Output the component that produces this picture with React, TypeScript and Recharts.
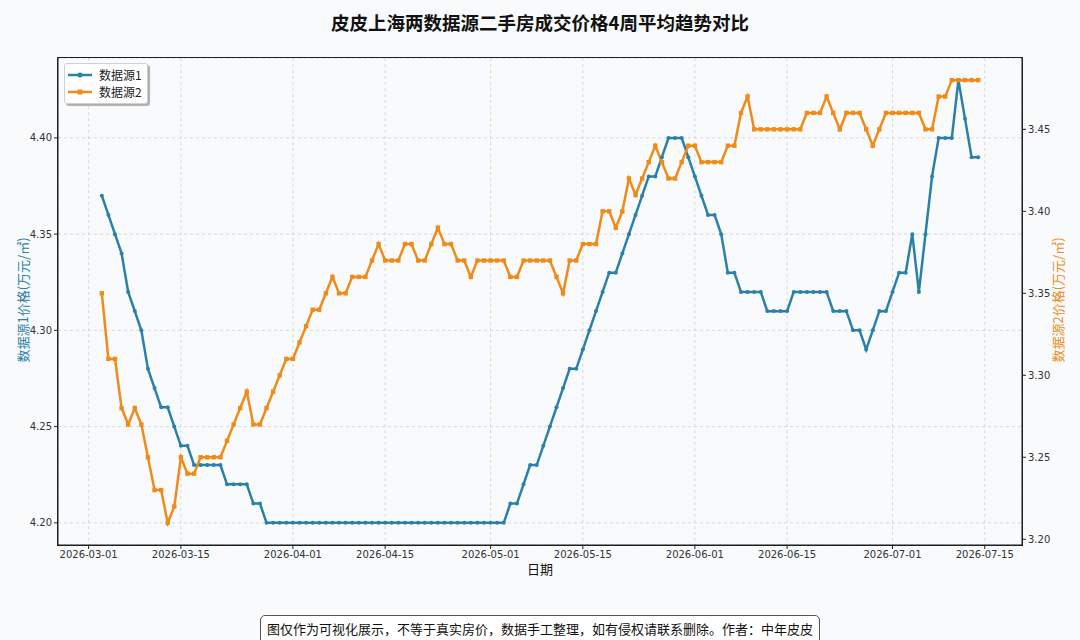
import React from "react";
import { LineChart, Line, XAxis, YAxis, CartesianGrid } from "recharts";

// 4周平均价格，逐日，2026-03-03 起
const startDate = "2026-03-03";

const source1 = [
  4.37, 4.36, 4.35, 4.34, 4.32, 4.31, 4.3, 4.28, 4.27, 4.26,
  4.26, 4.25, 4.24, 4.24, 4.23, 4.23, 4.23, 4.23, 4.23, 4.22,
  4.22, 4.22, 4.22, 4.21, 4.21, 4.2, 4.2, 4.2, 4.2, 4.2,
  4.2, 4.2, 4.2, 4.2, 4.2, 4.2, 4.2, 4.2, 4.2, 4.2,
  4.2, 4.2, 4.2, 4.2, 4.2, 4.2, 4.2, 4.2, 4.2, 4.2,
  4.2, 4.2, 4.2, 4.2, 4.2, 4.2, 4.2, 4.2, 4.2, 4.2,
  4.2, 4.2, 4.21, 4.21, 4.22, 4.23, 4.23, 4.24, 4.25, 4.26,
  4.27, 4.28, 4.28, 4.29, 4.3, 4.31, 4.32, 4.33, 4.33, 4.34,
  4.35, 4.36, 4.37, 4.38, 4.38, 4.39, 4.4, 4.4, 4.4, 4.39,
  4.38, 4.37, 4.36, 4.36, 4.35, 4.33, 4.33, 4.32, 4.32, 4.32,
  4.32, 4.31, 4.31, 4.31, 4.31, 4.32, 4.32, 4.32, 4.32, 4.32,
  4.32, 4.31, 4.31, 4.31, 4.3, 4.3, 4.29, 4.3, 4.31, 4.31,
  4.32, 4.33, 4.33, 4.35, 4.32, 4.35, 4.38, 4.4, 4.4, 4.4,
  4.43, 4.41, 4.39, 4.39,
];

const source2 = [
  3.35, 3.31, 3.31, 3.28, 3.27, 3.28, 3.27, 3.25, 3.23, 3.23,
  3.21, 3.22, 3.25, 3.24, 3.24, 3.25, 3.25, 3.25, 3.25, 3.26,
  3.27, 3.28, 3.29, 3.27, 3.27, 3.28, 3.29, 3.3, 3.31, 3.31,
  3.32, 3.33, 3.34, 3.34, 3.35, 3.36, 3.35, 3.35, 3.36, 3.36,
  3.36, 3.37, 3.38, 3.37, 3.37, 3.37, 3.38, 3.38, 3.37, 3.37,
  3.38, 3.39, 3.38, 3.38, 3.37, 3.37, 3.36, 3.37, 3.37, 3.37,
  3.37, 3.37, 3.36, 3.36, 3.37, 3.37, 3.37, 3.37, 3.37, 3.36,
  3.35, 3.37, 3.37, 3.38, 3.38, 3.38, 3.4, 3.4, 3.39, 3.4,
  3.42, 3.41, 3.42, 3.43, 3.44, 3.43, 3.42, 3.42, 3.43, 3.44,
  3.44, 3.43, 3.43, 3.43, 3.43, 3.44, 3.44, 3.46, 3.47, 3.45,
  3.45, 3.45, 3.45, 3.45, 3.45, 3.45, 3.45, 3.46, 3.46, 3.46,
  3.47, 3.46, 3.45, 3.46, 3.46, 3.46, 3.45, 3.44, 3.45, 3.46,
  3.46, 3.46, 3.46, 3.46, 3.46, 3.45, 3.45, 3.47, 3.47, 3.48,
  3.48, 3.48, 3.48, 3.48,
];

const dateTicks = [
  "2026-03-01", "2026-03-15", "2026-04-01", "2026-04-15", "2026-05-01",
  "2026-05-15", "2026-06-01", "2026-06-15", "2026-07-01", "2026-07-15",
];

const leftTicks = [4.2, 4.25, 4.3, 4.35, 4.4];
const rightTicks = [3.2, 3.25, 3.3, 3.35, 3.4, 3.45];

const BLUE = "#2B80AA";
const ORANGE = "#EF8B1A";
const BG = "#f8fafc";
const DAY = 86400000;

const toTime = (s: string) => Date.parse(s + "T00:00:00Z");
const t0 = toTime(startDate);

const data = source1.map((v, i) => ({
  t: t0 + i * DAY,
  s1: v,
  s2: source2[i],
}));

const tickTimes = dateTicks.map(toTime);
const fmtDate = (t: number) => new Date(t).toISOString().slice(0, 10);

// matplotlib 默认 5% 边距
const span = data[data.length - 1].t - data[0].t;
const xDomain = [data[0].t - span * 0.05, data[data.length - 1].t + span * 0.05];

const W = 1080;
const H = 640;
const PLOT = { left: 58, top: 58, right: 1022, bottom: 545 };
const X_AXIS_H = 24;

const cjk = '"Noto Sans CJK SC", "Noto Sans", sans-serif';
const tickStyle = { fontSize: 10, fill: "#333", fontFamily: '"DejaVu Sans", sans-serif' };

function SquareDot(props: any) {
  const { cx, cy, index } = props;
  if (cx == null || cy == null) return null;
  return <rect key={"sq" + index} x={cx - 2.2} y={cy - 2.2} width={4.4} height={4.4} fill={ORANGE} />;
}

function LegendBox() {
  const item = (color: string, label: string, square: boolean) => (
    <div style={{ display: "flex", alignItems: "center", height: 17 }}>
      <svg width={24} height={10} style={{ marginRight: 7 }}>
        <line x1={0} y1={5} x2={24} y2={5} stroke={color} strokeWidth={2.5} />
        {square ? (
          <rect x={9.5} y={2.5} width={5} height={5} fill={color} />
        ) : (
          <circle cx={12} cy={5} r={2.5} fill={color} />
        )}
      </svg>
      <span style={{ fontSize: 12, color: "#222", fontFamily: cjk }}>{label}</span>
    </div>
  );
  return (
    <div
      style={{
        position: "absolute",
        left: 64,
        top: 63,
        background: "#fff",
        border: "1px solid #d0d0d0",
        borderRadius: 3,
        boxShadow: "2px 2px 1px rgba(0,0,0,0.3)",
        padding: "2px 5px 3px 3px",
      }}
    >
      {item(BLUE, "数据源1", false)}
      {item(ORANGE, "数据源2", true)}
    </div>
  );
}

export default function App() {
  return (
    <div style={{ position: "absolute", left: 0, top: 0, width: W, height: H, background: BG, overflow: "hidden" }}>
      <div
        style={{
          position: "absolute",
          top: 9,
          width: W,
          textAlign: "center",
          fontFamily: cjk,
          fontWeight: 700,
          fontSize: 18.5,
          color: "#111",
        }}
      >
        皮皮上海两数据源二手房成交价格4周平均趋势对比
      </div>

      <LineChart
        width={W}
        height={H}
        data={data}
        margin={{ top: PLOT.top, right: 0, left: 0, bottom: H - PLOT.bottom - X_AXIS_H }}
      >
        <CartesianGrid yAxisId="left" strokeDasharray="3 3" stroke="#cfcfcf" strokeWidth={0.8} />
        <XAxis
          dataKey="t"
          type="number"
          domain={xDomain}
          allowDataOverflow
          ticks={tickTimes}
          tickFormatter={fmtDate}
          tick={tickStyle}
          tickSize={4}
          height={X_AXIS_H}
          stroke="#222"
        />
        <YAxis
          yAxisId="left"
          domain={[4.1885, 4.4415]}
          allowDataOverflow
          ticks={leftTicks}
          tickFormatter={(v: number) => v.toFixed(2)}
          tick={tickStyle}
          tickSize={4}
          width={PLOT.left}
          stroke="#222"
        />
        <YAxis
          yAxisId="right"
          orientation="right"
          domain={[3.1965, 3.4935]}
          allowDataOverflow
          ticks={rightTicks}
          tickFormatter={(v: number) => v.toFixed(2)}
          tick={tickStyle}
          tickSize={4}
          width={W - PLOT.right}
          stroke="#222"
        />
        <Line
          yAxisId="left"
          dataKey="s1"
          name="数据源1"
          stroke={BLUE}
          strokeWidth={2.5}
          dot={{ r: 2, fill: BLUE, stroke: BLUE, strokeWidth: 0 }}
          activeDot={false}
          isAnimationActive={false}
        />
        <Line
          yAxisId="right"
          dataKey="s2"
          name="数据源2"
          stroke={ORANGE}
          strokeWidth={2.5}
          dot={<SquareDot />}
          activeDot={false}
          isAnimationActive={false}
        />
      </LineChart>

      <LegendBox />

      {/* frame */}
      <div
        style={{
          position: "absolute",
          left: PLOT.left - 1,
          top: PLOT.top - 1,
          width: PLOT.right - PLOT.left,
          height: PLOT.bottom - PLOT.top,
          border: "1.5px solid #1b1f1f",
          pointerEvents: "none",
        }}
      />

      <div
        style={{
          position: "absolute",
          left: 22,
          top: 300,
          transform: "translate(-50%, -50%) rotate(-90deg)",
          whiteSpace: "nowrap",
          fontFamily: cjk,
          fontSize: 13,
          color: BLUE,
        }}
      >
        数据源1价格(万元/㎡)
      </div>
      <div
        style={{
          position: "absolute",
          left: 1057,
          top: 300,
          transform: "translate(-50%, -50%) rotate(-90deg)",
          whiteSpace: "nowrap",
          fontFamily: cjk,
          fontSize: 13,
          color: ORANGE,
        }}
      >
        数据源2价格(万元/㎡)
      </div>
      <div
        style={{
          position: "absolute",
          top: 559,
          width: W,
          textAlign: "center",
          fontFamily: cjk,
          fontSize: 13,
          color: "#111",
        }}
      >
        日期
      </div>

      <div
        style={{
          position: "absolute",
          left: 540,
          top: 615,
          transform: "translateX(-50%)",
          whiteSpace: "nowrap",
          border: "1px solid #555",
          borderRadius: 5,
          background: "#fff",
          padding: "3px 6px 8px 6px",
          fontFamily: cjk,
          fontSize: 13,
          color: "#111",
        }}
      >
        图仅作为可视化展示，不等于真实房价，数据手工整理，如有侵权请联系删除。作者：中年皮皮
      </div>
    </div>
  );
}
